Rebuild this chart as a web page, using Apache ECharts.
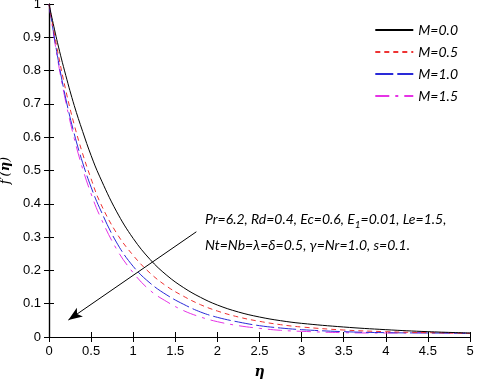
<!DOCTYPE html>
<html>
<head>
<meta charset="utf-8">
<script src="https://cdn.jsdelivr.net/npm/echarts@6/dist/echarts.min.js"></script>
<style>
  html, body { margin: 0; padding: 0; background: #fff; }
  #chart { width: 477px; height: 380px; }
</style>
</head>
<body>
<div id="chart"></div>
<script>
var eta = [0, 0.1, 0.2, 0.3, 0.4, 0.5, 0.6, 0.8, 1.0, 1.2, 1.4, 1.6, 1.8, 2.0, 2.25, 2.5, 2.75, 3.0, 3.5, 4.0, 4.5, 5.0]
var m00 = [1, 0.885, 0.785, 0.695, 0.617, 0.545, 0.483, 0.378, 0.296, 0.233, 0.185, 0.148, 0.119, 0.096, 0.075, 0.060, 0.049, 0.041, 0.030, 0.022, 0.016, 0.012]
var m05 = [1, 0.862, 0.740, 0.637, 0.550, 0.475, 0.408, 0.313, 0.245, 0.192, 0.152, 0.122, 0.097, 0.078, 0.060, 0.047, 0.037, 0.030, 0.021, 0.016, 0.013, 0.011]
var m10 = [1, 0.845, 0.715, 0.610, 0.523, 0.450, 0.388, 0.285, 0.212, 0.162, 0.126, 0.098, 0.075, 0.059, 0.045, 0.034, 0.027, 0.022, 0.016, 0.013, 0.012, 0.011]
var m15 = [1, 0.838, 0.705, 0.596, 0.505, 0.430, 0.366, 0.265, 0.193, 0.140, 0.106, 0.079, 0.060, 0.046, 0.034, 0.026, 0.020, 0.017, 0.013, 0.012, 0.013, 0.011]
var names = ['M=0.0', 'M=0.5', 'M=1.0', 'M=1.5']

// arrow of the annotation, in data units
var arrowFrom = [1.75, 0.316]
var arrowTo = [0.23, 0.051]

function pairs(ys) {
  return eta.map(function (x, i) { return [x, ys[i]] })
}

var styles = [
  { color: '#000000', type: 'solid' },
  { color: '#ee3333', type: [5, 4] },
  { color: '#2a2ad8', type: [18, 4] },
  { color: '#e533e5', type: [14, 6, 3, 6] }
]

var chart = echarts.init(document.getElementById('chart'))

var series = [m00, m05, m10, m15].map(function (ys, i) {
  return {
    name: names[i],
    type: 'line',
    data: pairs(ys),
    smooth: 0.4,
    symbol: 'none',
    lineStyle: { color: styles[i].color, width: 1, type: styles[i].type },
    itemStyle: { color: styles[i].color },
    z: 4 - i
  }
})

series[0].markLine = {
  silent: true,
  symbol: ['none', 'arrow'],
  symbolSize: [8, 14],
  label: { show: false },
  lineStyle: { color: '#000', width: 1, type: 'solid' },
  data: [[{ coord: arrowFrom }, { coord: arrowTo }]]
}

var tickStyle = { inside: true, length: 5, lineStyle: { color: '#000' } }
var lineStyle = { lineStyle: { color: '#000', width: 1.2 } }
var labelStyle = { color: '#000', fontSize: 13, fontFamily: 'Liberation Sans' }

var option = {
  animation: false,
  grid: { left: 49, right: 7, top: 4, bottom: 43, outerBoundsMode: 'none' },
  legend: {
    orient: 'vertical',
    right: 14,
    top: 18,
    itemWidth: 38,
    itemHeight: 10,
    itemGap: 8,
    data: names,
    itemStyle: { opacity: 0 },
    textStyle: { fontFamily: 'Lato', fontStyle: 'italic', fontSize: 14, color: '#000' }
  },
  xAxis: [
    {
      type: 'value', min: 0, max: 5, interval: 0.5,
      axisLine: lineStyle, axisTick: tickStyle,
      axisLabel: labelStyle, splitLine: { show: false },
      name: 'η', nameLocation: 'middle', nameGap: 28,
      nameTextStyle: { fontStyle: 'italic', fontWeight: 'bold', fontSize: 14, color: '#000', fontFamily: 'DejaVu Serif' }
    },
    {
      type: 'value', position: 'top', min: 0, max: 5, interval: 0.5,
      axisLine: lineStyle, axisTick: tickStyle,
      axisLabel: { show: false }, splitLine: { show: false }
    }
  ],
  yAxis: [
    {
      type: 'value', min: 0, max: 1, interval: 0.1,
      axisLine: lineStyle, axisTick: tickStyle,
      axisLabel: labelStyle, splitLine: { show: false },
      name: '{f|f′(}{e|η}{f|)}', nameLocation: 'middle', nameGap: 31,
      nameTextStyle: {
        rich: {
          f: { fontStyle: 'italic', fontSize: 13, fontFamily: 'DejaVu Serif', color: '#000' },
          e: { fontStyle: 'italic', fontWeight: 'bold', fontSize: 13, fontFamily: 'DejaVu Serif', color: '#000' }
        }
      }
    },
    {
      type: 'value', position: 'right', min: 0, max: 1, interval: 0.1,
      axisLine: lineStyle, axisTick: tickStyle,
      axisLabel: { show: false }, splitLine: { show: false }
    }
  ],
  graphic: [
    {
      type: 'text', left: 205, top: 212,
      style: {
        text: 'Pr=6.2, Rd=0.4, Ec=0.6, E{s|1}=0.01, Le=1.5,',
        font: 'italic 14px Lato',
        fill: '#000',
        rich: { s: { font: 'italic 10px Lato', fill: '#000', padding: [12, 0, 0, 0] } }
      }
    },
    {
      type: 'text', left: 205, top: 238,
      style: {
        text: 'Nt=Nb=λ=δ=0.5, γ=Nr=1.0, s=0.1.',
        font: 'italic 14px Lato',
        fill: '#000'
      }
    }
  ],
  series: series
}

chart.setOption(option)
</script>
</body>
</html>
